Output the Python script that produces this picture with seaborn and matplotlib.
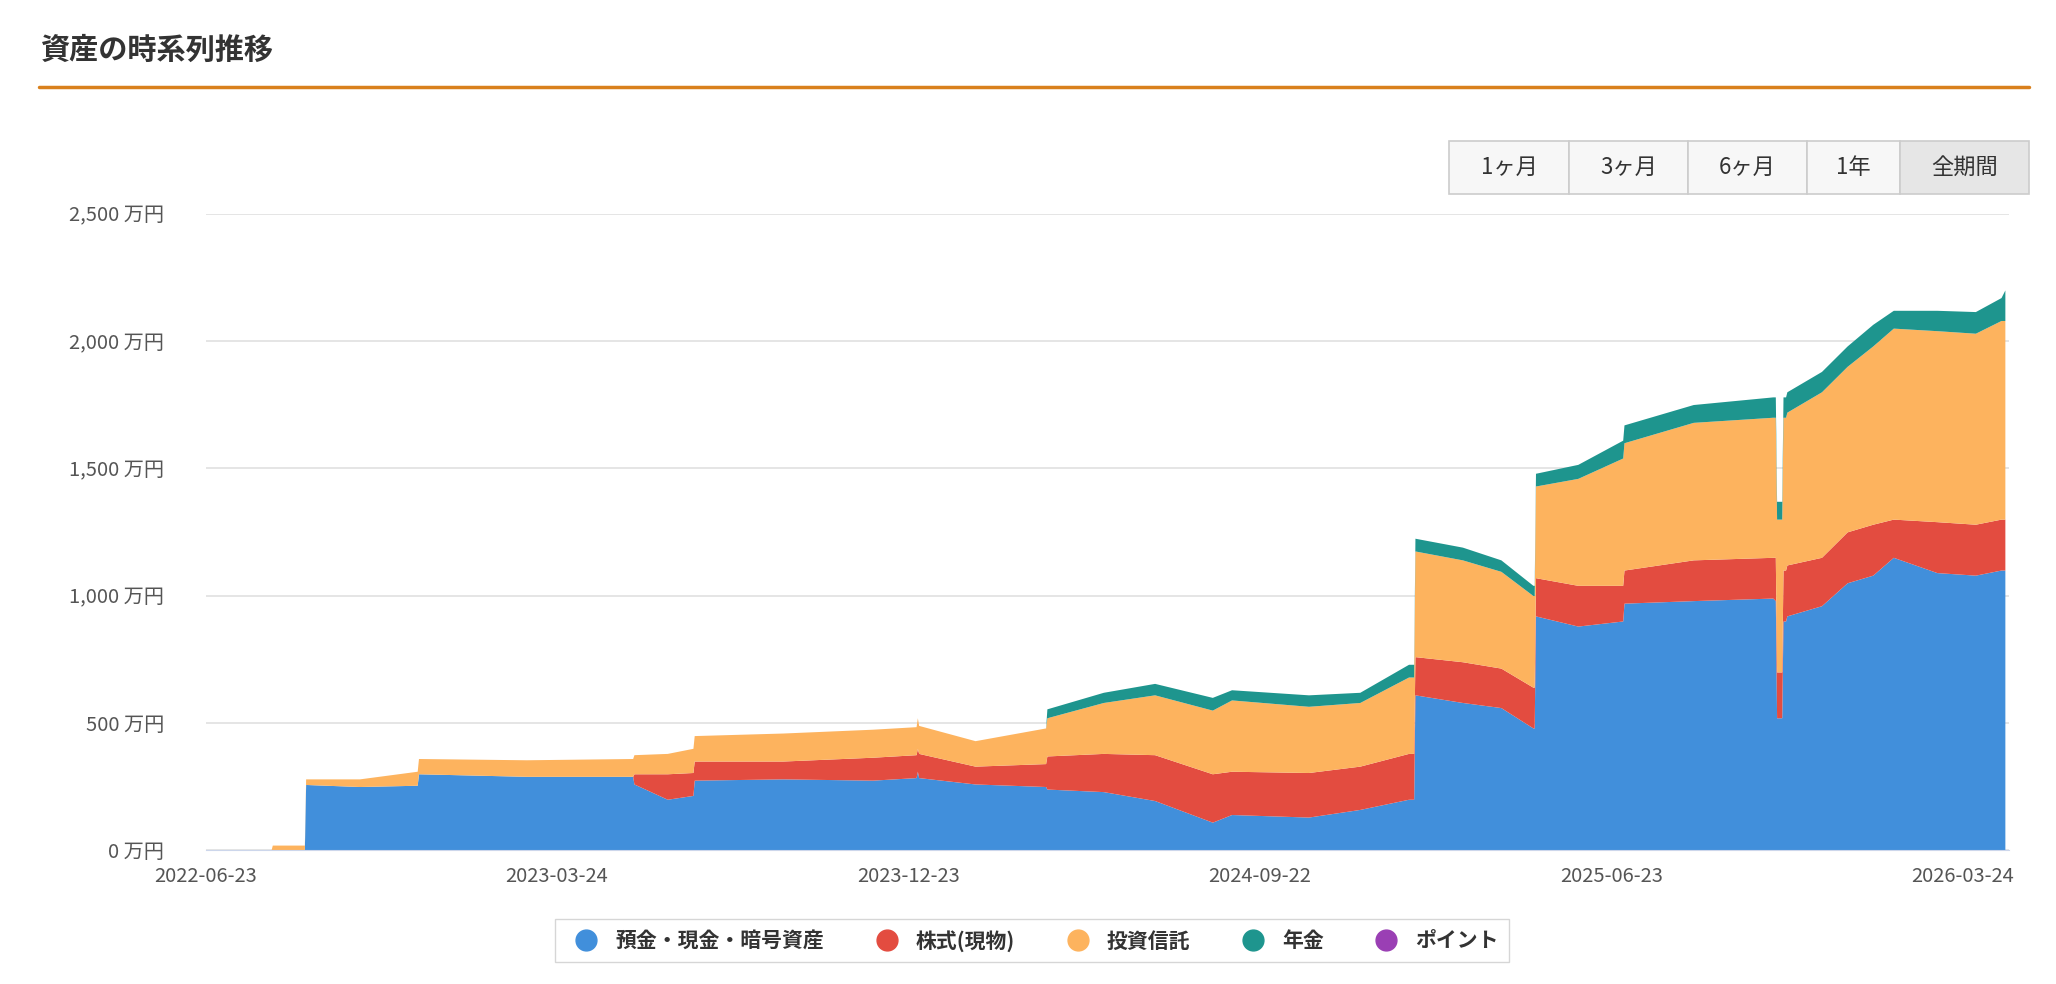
import pandas as pd
import numpy as np
import matplotlib
matplotlib.use('Agg')
import matplotlib.pyplot as plt
import seaborn as sns
from matplotlib.patches import Rectangle
from matplotlib.lines import Line2D

# ----
# Data (万円), day offsets from 2022-06-23
# ----
days = [0, 51, 52, 77, 78, 120, 165, 166, 250, 333, 334, 360, 380, 381, 450, 520, 554, 555, 556,
        600, 655, 656, 700, 740, 785, 800, 860, 900, 938, 942, 943, 980, 1010, 1035, 1036, 1037,
        1070, 1105, 1106, 1160, 1222, 1224, 1225, 1229, 1230, 1232, 1233, 1260, 1280, 1300, 1316,
        1350, 1380, 1400, 1403]
blue = [0, 0, 0, 0, 258, 250, 255, 300, 290, 290, 260, 200, 215, 275, 280, 275, 285, 310, 285,
        260, 250, 240, 230, 195, 110, 140, 130, 160, 200, 200, 610, 580, 560, 480, 480, 920,
        880, 900, 970, 980, 990, 980, 520, 520, 900, 900, 920, 960, 1050, 1080, 1150,
        1090, 1080, 1100, 1100]
red = [0, 0, 0, 0, 0, 0, 0, 0, 0, 0, 40, 100, 90, 75, 70, 90, 90, 90, 95,
       70, 90, 130, 150, 180, 190, 170, 175, 170, 180, 180, 150, 160, 155, 160, 160, 150,
       160, 140, 130, 160, 160, 170, 180, 180, 200, 200, 200, 190, 200, 200, 150,
       200, 200, 200, 200]
orange = [0, 0, 20, 20, 22, 30, 55, 60, 65, 70, 75, 80, 95, 100, 110, 110, 110, 120, 110,
          100, 140, 150, 200, 235, 250, 280, 260, 250, 300, 300, 415, 400, 380, 360, 360, 360,
          420, 500, 500, 540, 550, 550, 600, 600, 600, 600, 600, 650, 650, 700, 750,
          750, 750, 780, 780]
pension = [0, 0, 0, 0, 0, 0, 0, 0, 0, 0, 0, 0, 0, 0, 0, 0, 0, 0, 0,
           0, 0, 35, 40, 45, 50, 40, 45, 40, 50, 50, 50, 50, 45, 40, 40, 50,
           55, 70, 70, 70, 80, 80, 70, 70, 80, 80, 80, 80, 80, 85, 70,
           80, 85, 90, 120]
points = [0] * len(days)

labels = ['預金・現金・暗号資産', '株式(現物)', '投資信託', '年金', 'ポイント']
colors = ['#418fdb', '#e34c40', '#fdb35e', '#1e958e', '#9a3fb4']
tick_dates = ['2022-06-23', '2023-03-24', '2023-12-23', '2024-09-22', '2025-06-23', '2026-03-24']
yticks = [0, 500, 1000, 1500, 2000, 2500]
buttons = ['1ヶ月', '3ヶ月', '6ヶ月', '1年', '全期間']

# -------
# Plot
# -------
sns.set_style('white')
plt.rcParams['font.family'] = ['Noto Sans CJK JP', 'DejaVu Sans']

start = pd.Timestamp('2022-06-23')
dates = [start + pd.Timedelta(days=d) for d in days]

fig = plt.figure(figsize=(20.56, 9.84), dpi=100)
ax = fig.add_axes([0.100, 0.136, 0.877, 0.647])
ax.stackplot(dates, blue, red, orange, pension, points, colors=colors, linewidth=0)
ax.set_xlim(start, start + pd.Timedelta(days=1406))
ax.set_ylim(0, 2500)
ax.set_yticks(yticks)
ax.set_yticklabels([f'{v:,} 万円' for v in yticks])
ax.set_xticks([pd.Timestamp(t) for t in tick_dates])
ax.set_xticklabels(tick_dates)
ax.grid(axis='y', color='#e0e0e0', linewidth=1.2)
ax.set_axisbelow(True)
sns.despine(ax=ax, left=True)
ax.spines['bottom'].set_color('#ccd6eb')
ax.tick_params(axis='x', length=8, color='#ccd6eb', labelsize=14.5, labelcolor='#555555')
ax.tick_params(axis='y', length=0, labelsize=14.5, labelcolor='#555555', pad=30)

# title and rule
fig.text(0.02, 0.94, '資産の時系列推移', fontsize=21, fontweight='bold', color='#333333')
fig.add_artist(Line2D([0.019, 0.987], [0.912, 0.912], color='#d9801c', linewidth=2.5))

# range buttons
bx = [0.705, 0.763, 0.821, 0.879, 0.924, 0.987]
for i, b in enumerate(buttons):
    fc = '#e6e6e6' if i == len(buttons) - 1 else '#f7f7f7'
    fig.add_artist(Rectangle((bx[i], 0.803), bx[i + 1] - bx[i], 0.054, facecolor=fc,
                             edgecolor='#cccccc', linewidth=1.2))
    fig.text((bx[i] + bx[i + 1]) / 2, 0.830, b, ha='center', va='center', fontsize=16, color='#333333')

# legend
handles = [Line2D([], [], marker='o', linestyle='', markersize=15, color=c) for c in colors]
leg = fig.legend(handles, labels, loc='center', bbox_to_anchor=(0.502, 0.044), ncol=5,
                 fontsize=15, frameon=True, fancybox=False, edgecolor='#cccccc',
                 handletextpad=0.4, columnspacing=2.0, borderpad=0.5)
for t in leg.get_texts():
    t.set_fontweight('bold')
    t.set_color('#333333')

fig.savefig('out.png', dpi=100)
